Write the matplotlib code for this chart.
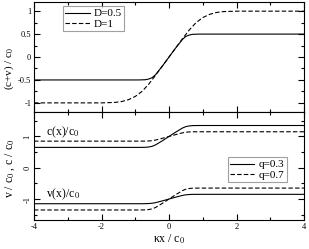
import numpy as np
import matplotlib.pyplot as plt

plt.rcParams['font.family'] = ['Liberation Serif', 'DejaVu Serif']
plt.rcParams['mathtext.fontset'] = 'stix'

# top panel: (c+v)/c0 for two D values
kx_d05 = [-4, -0.9, -0.7, -0.6, -0.5, -0.4, -0.2, 0, 0.2, 0.4, 0.5, 0.6, 0.7, 0.9, 4]
cv_d05 = [-0.5, -0.5, -0.495, -0.48, -0.45, -0.385, -0.2, 0, 0.2, 0.385, 0.45, 0.48, 0.495, 0.5, 0.5]

kx_d1 = [-4, -2, -1.6, -1.4, -1.2, -1.0, -0.8, -0.6, -0.4, -0.2, 0,
         0.2, 0.4, 0.6, 0.8, 1.0, 1.2, 1.4, 1.6, 2, 4]
cv_d1 = [-1, -1, -0.99, -0.97, -0.93, -0.86, -0.75, -0.59, -0.4, -0.2, 0,
         0.2, 0.4, 0.59, 0.75, 0.86, 0.93, 0.97, 0.99, 1, 1]

# bottom panel: c(x)/c0 and v(x)/c0 for two q values
kx_q = [-4, -0.9, -0.7, -0.6, -0.5, -0.4, -0.2, 0, 0.2, 0.4, 0.5, 0.6, 0.7, 0.9, 4]
c_q03 = [0.65, 0.65, 0.653, 0.664, 0.685, 0.73, 0.86, 1.0, 1.14, 1.27, 1.315, 1.336, 1.347, 1.35, 1.35]
c_q07 = [0.85, 0.85, 0.851, 0.856, 0.865, 0.884, 0.94, 1.0, 1.06, 1.116, 1.135, 1.144, 1.149, 1.15, 1.15]
v_q03 = [-1.15, -1.15, -1.149, -1.144, -1.135, -1.116, -1.06, -1.0, -0.94, -0.884, -0.865, -0.856, -0.851, -0.85, -0.85]
v_q07 = [-1.35, -1.35, -1.347, -1.336, -1.315, -1.27, -1.14, -1.0, -0.86, -0.73, -0.685, -0.664, -0.653, -0.65, -0.65]

fig = plt.figure(figsize=(3.09, 2.49), dpi=100)
ax1 = fig.add_axes([0.110, 0.55, 0.874, 0.442])
ax2 = fig.add_axes([0.110, 0.1165, 0.874, 0.4335])

lw = 0.8
dash = (0, (4, 2))
fs = 6

ax1.plot(kx_d05, cv_d05, 'k-', lw=lw, label='D=0.5')
ax1.plot(kx_d1, cv_d1, color='k', ls=dash, lw=lw, label='D=1')
ax1.set_ylim(-1.2, 1.2)
ax1.set_yticks([-1, -0.5, 0, 0.5, 1])
ax1.set_yticklabels(['-1', '-0.5', '0', '0.5', '1'])
ax1.set_yticks(np.arange(-1, 1.01, 0.25), minor=True)
ax1.set_ylabel('(c+v) / c$_0$', fontsize=8)
ax1.yaxis.set_label_coords(-0.068, 0.4)
ax1.tick_params(labelbottom=False)
leg1 = ax1.legend(loc='upper left', bbox_to_anchor=(0.095, 0.99), fontsize=8,
                  frameon=True, fancybox=False, edgecolor='#888888',
                  handlelength=2.2, handletextpad=0.4, borderpad=0.2,
                  labelspacing=0.05, borderaxespad=0.3)
leg1.get_frame().set_linewidth(0.8)

ax2.plot(kx_q, c_q03, 'k-', lw=lw, label='q=0.3')
ax2.plot(kx_q, c_q07, color='k', ls=dash, lw=lw, label='q=0.7')
ax2.plot(kx_q, v_q03, 'k-', lw=lw)
ax2.plot(kx_q, v_q07, color='k', ls=dash, lw=lw)
ax2.set_ylim(-1.67, 1.78)
ax2.set_yticks([-1, 0, 1])
ax2.set_yticklabels(['-1', '0', '1'], rotation=90, va='center')
ax2.set_yticks(np.arange(-1.5, 1.51, 0.5), minor=True)
ax2.set_xticks([-4, -2, 0, 2, 4])
ax2.set_xticklabels(['-4', '-2', '0', '2', '4'])
ax2.set_ylabel('v / c$_0$ , c / c$_0$', fontsize=8.5)
ax2.yaxis.set_label_coords(-0.063, 0.48)
ax2.set_xlabel('κx / c$_0$', fontsize=8.5, labelpad=1)
ax2.text(-3.65, 1.05, 'c(x)/c$_0$', fontsize=8.5)
ax2.text(-3.65, -0.95, 'v(x)/c$_0$', fontsize=8.5)
leg2 = ax2.legend(loc='upper left', bbox_to_anchor=(0.705, 0.61), fontsize=8,
                  frameon=True, fancybox=False, edgecolor='#888888',
                  handlelength=2.2, handletextpad=0.4, borderpad=0.2,
                  labelspacing=0.05, borderaxespad=0.3)
leg2.get_frame().set_linewidth(0.8)

for ax in (ax1, ax2):
    ax.set_xlim(-4, 4)
    ax.set_xticks([-4, -2, 0, 2, 4])
    ax.set_xticks([-3, -1, 1, 3], minor=True)
    ax.tick_params(which='both', direction='in', top=True, right=True,
                   labelsize=fs, width=0.8, pad=2)
    ax.tick_params(which='major', length=4)
    ax.tick_params(which='minor', length=2)
    for s in ax.spines.values():
        s.set_linewidth(0.8)

fig.savefig('out.png', dpi=100)
